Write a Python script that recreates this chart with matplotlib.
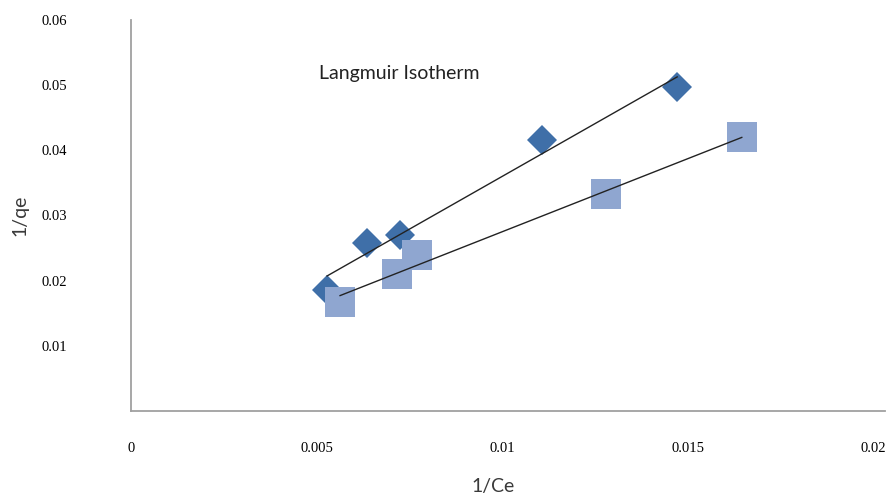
import numpy as np
import matplotlib
matplotlib.use("Agg")
import matplotlib.pyplot as plt

# series 1 (diamonds) and series 2 (squares): 1/Ce vs 1/qe
ce_inv_1 = [0.00528, 0.00635, 0.00724, 0.01106, 0.01471]
qe_inv_1 = [0.0185, 0.0258, 0.0269, 0.0416, 0.0497]
ce_inv_2 = [0.00563, 0.00715, 0.00771, 0.01279, 0.01645]
qe_inv_2 = [0.0167, 0.0210, 0.0239, 0.0332, 0.0420]

x_ticks = [0, 0.005, 0.01, 0.015, 0.02]
x_tick_labels = ['0', '0.005', '0.01', '0.015', '0.02']
y_ticks = [0.01, 0.02, 0.03, 0.04, 0.05, 0.06]
y_tick_labels = ['0.01', '0.02', '0.03', '0.04', '0.05', '0.06']

fig = plt.figure(figsize=(8.86, 4.93), dpi=100)
ax = fig.add_axes([0.1479, 0.1663, 0.8515, 0.7941])

ax.plot(ce_inv_1, qe_inv_1, linestyle='none', marker='D', markersize=15,
        color='#3F6FA8', markeredgewidth=0, zorder=2)
ax.plot(ce_inv_2, qe_inv_2, linestyle='none', marker='s', markersize=21,
        color='#8FA6D0', markeredgewidth=0, zorder=2)

# linear trendlines
for xs, ys in [(ce_inv_1, qe_inv_1), (ce_inv_2, qe_inv_2)]:
    k, b = np.polyfit(xs, ys, 1)
    xx = np.array([min(xs), max(xs)])
    ax.plot(xx, k * xx + b, color='#222222', linewidth=1.0, zorder=3)

ax.set_xlim(0, 0.02032)
ax.set_ylim(0, 0.06)
ax.set_xticks(x_ticks)
ax.set_xticklabels(x_tick_labels, family='Liberation Serif', fontsize=10.5)
ax.set_yticks(y_ticks)
ax.set_yticklabels(y_tick_labels, family='Liberation Serif', fontsize=10.5)
ax.tick_params(axis='x', length=0, pad=22)
ax.tick_params(axis='y', length=0, pad=46)

for s in ['top', 'right']:
    ax.spines[s].set_visible(False)
for s in ['left', 'bottom']:
    ax.spines[s].set_color('#a0a0a0')
    ax.spines[s].set_linewidth(1.3)

ax.set_xlabel('1/Ce', family='Lato', fontsize=14, color='#3a3a3a')
ax.set_ylabel('1/qe', family='Lato', fontsize=14, color='#3a3a3a')
ax.xaxis.set_label_coords(0.48, -0.17)
ax.yaxis.set_label_coords(-0.136, 0.5)

ax.text(0.00505, 0.0517, 'Langmuir Isotherm', family='Lato', fontsize=14,
        color='#222222', va='center')

fig.savefig('out.png', dpi=100)
